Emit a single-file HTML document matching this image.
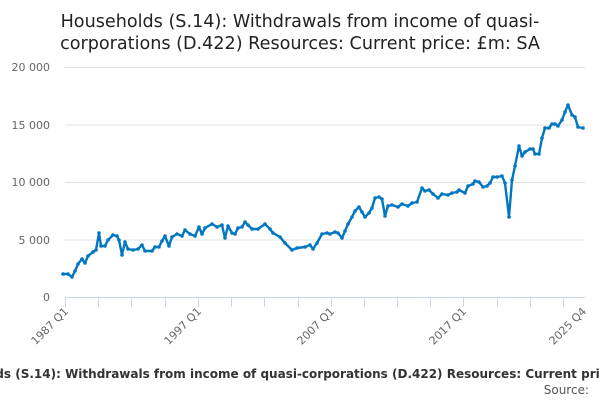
<!DOCTYPE html>
<html><head><style>
body{margin:0;width:600px;height:400px;background:#fff;overflow:hidden;font-family:"DejaVu Sans","Liberation Sans",sans-serif;}
</style></head><body>
<svg width="600" height="400" xmlns="http://www.w3.org/2000/svg" font-family="DejaVu Sans, Liberation Sans, sans-serif">
<defs><marker id="m" markerUnits="userSpaceOnUse" markerWidth="6" markerHeight="6" refX="3" refY="3"><circle cx="3" cy="3" r="1.8" fill="#0077c0"/></marker></defs>
<text x="300" y="27" text-anchor="middle" font-size="17.6" fill="#222">Households (S.14): Withdrawals from income of quasi-</text>
<text x="300" y="49" text-anchor="middle" font-size="17.6" fill="#222">corporations (D.422) Resources: Current price: £m: SA</text>
<g stroke="#e0e0e0" stroke-width="1">
<line x1="65" x2="585" y1="67.5" y2="67.5"/><line x1="65" x2="585" y1="125" y2="125"/><line x1="65" x2="585" y1="182.5" y2="182.5"/><line x1="65" x2="585" y1="240" y2="240"/>
</g>
<line x1="65" x2="585" y1="297.5" y2="297.5" stroke="#ccd6eb"/>
<g stroke="#ccd6eb">
<line x1="65.5" x2="65.5" y1="297" y2="307"/><line x1="98.5" x2="98.5" y1="297" y2="307"/><line x1="131.5" x2="131.5" y1="297" y2="307"/><line x1="165.5" x2="165.5" y1="297" y2="307"/><line x1="198.5" x2="198.5" y1="297" y2="307"/><line x1="231.5" x2="231.5" y1="297" y2="307"/><line x1="264.5" x2="264.5" y1="297" y2="307"/><line x1="298.5" x2="298.5" y1="297" y2="307"/><line x1="331.5" x2="331.5" y1="297" y2="307"/><line x1="364.5" x2="364.5" y1="297" y2="307"/><line x1="397.5" x2="397.5" y1="297" y2="307"/><line x1="430.5" x2="430.5" y1="297" y2="307"/><line x1="463.5" x2="463.5" y1="297" y2="307"/><line x1="497.5" x2="497.5" y1="297" y2="307"/><line x1="530.5" x2="530.5" y1="297" y2="307"/><line x1="563.5" x2="563.5" y1="297" y2="307"/>
</g>
<g font-size="11" fill="#666" text-anchor="end">
<text x="50" y="71">20 000</text><text x="50" y="129">15 000</text><text x="50" y="186">10 000</text><text x="50" y="244">5 000</text><text x="50" y="301">0</text>
</g>
<g font-size="11" fill="#666" text-anchor="end">
<text transform="translate(69,312) rotate(-45)">1987 Q1</text>
<text transform="translate(202,312) rotate(-45)">1997 Q1</text>
<text transform="translate(335,312) rotate(-45)">2007 Q1</text>
<text transform="translate(467,312) rotate(-45)">2017 Q1</text>
<text transform="translate(587,312) rotate(-45)">2025 Q4</text>
</g>
<polyline fill="none" stroke="#0077c0" stroke-width="2.4" stroke-linejoin="round" marker-start="url(#m)" marker-mid="url(#m)" marker-end="url(#m)" points="63,274 68,274 72,277 75,271 78,264 82,259 85,263 88,256 93,252 96,250 99,233 101,246 105,246 108,240 113,235 117,236 119,240 122,255 125,242 128,249 133,250 138,249 142,245 145,251 152,251 155,247 159,247 162,241 165,236 169,246 172,237 177,234 182,236 185,230 190,234 195,236 199,227 202,234 205,228 212,224 217,227 222,225 225,238 228,226 232,233 235,234 238,228 242,227 245,222 248,225 252,229 258,229 265,224 270,229 273,233 280,237 285,243 292,250 297,248 305,247 310,245 313,249 317,243 322,234 327,233 330,234 335,232 338,233 342,238 345,231 348,224 352,217 355,211 359,207 362,212 365,217 369,213 372,208 375,198 379,197 382,199 385,216 388,206 392,205 398,207 402,204 408,206 412,203 417,202 422,188 425,191 429,190 433,194 438,198 442,194 448,195 452,193 457,192 459,190 465,193 468,186 473,184 475,181 479,182 483,187 487,186 490,183 493,177 497,177 502,176 505,183 509,217 512,180 515,166 519,146 522,156 525,152 530,149 533,149 535,154 539,154 542,138 545,128 549,128 552,124 555,124 558,126 562,120 565,112 568,105 572,115 575,117 578,127 583,128"/>
<text x="302" y="378" text-anchor="middle" font-size="12" font-weight="bold" fill="#333">Households (S.14): Withdrawals from income of quasi-corporations (D.422) Resources: Current price: £m: SA</text>
<text x="589" y="394" text-anchor="end" font-size="12" fill="#555">Source:</text>
</svg>
</body></html>
